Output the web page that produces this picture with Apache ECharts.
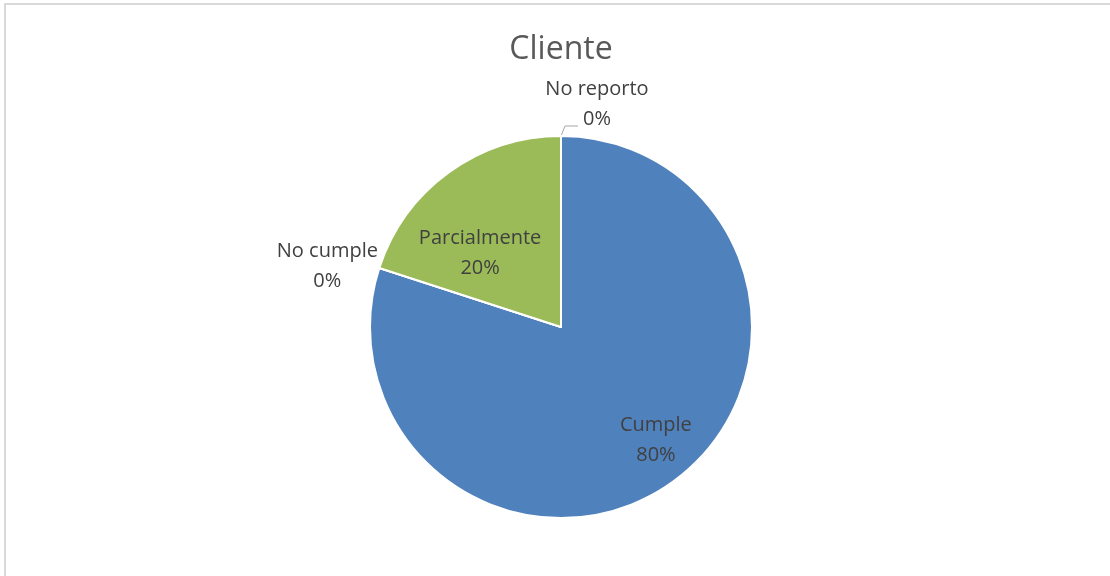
<!DOCTYPE html>
<html><head><meta charset="utf-8">
<script src="https://cdn.jsdelivr.net/npm/echarts@6/dist/echarts.min.js"></script>
<style>html,body{margin:0;padding:0;background:#fff}#c{width:1110px;height:576px}</style>
</head><body><div id="c"></div>
<script>
const title = 'Cliente';
const categories = ['Cumple', 'No cumple', 'Parcialmente', 'No reporto'];
const values = [80, 0, 20, 0];
const colors = ['#4F81BD', '#C0504D', '#9BBB59', '#8064A2'];

const chart = echarts.init(document.getElementById('c'));
const FONT = 'Open Sans';
const data = categories.map((n, i) => {
  const d = { name: n, value: values[i], itemStyle: { color: colors[i] } };
  if (values[i] === 0) {
    d.label = { position: 'outside' };
    d.labelLine = { show: n === 'No reporto' };
  }
  return d;
});
// label nudges (Excel-style best-fit placement)
const nudges = {
  'Cumple': [37, 34],
  'Parcialmente': [-23, 6]
};
chart.setOption({
  animation: false,
  title: { text: title, left: 556, textAlign: 'center', top: 29,
    textStyle: { fontFamily: FONT, fontSize: 32, fontWeight: 'normal', color: '#595959' } },
  graphic: [{ type: 'rect', shape: { x: 5, y: 4, width: 1200, height: 700 },
    style: { fill: 'none', stroke: '#d9d9d9', lineWidth: 2 }, silent: true }],
  series: [{
    type: 'pie',
    center: [561, 327],
    radius: 191,
    startAngle: 90,
    clockwise: true,
    data: data,
    itemStyle: { borderColor: '#fff', borderWidth: 2 },
    label: { show: true, position: 'inside', formatter: '{b}\n{d}%',
      fontFamily: FONT, fontSize: 20, color: '#404040', lineHeight: 30 },
    labelLine: { length: 10, length2: 14, lineStyle: { color: '#a6a6a6', width: 1 } },
    labelLayout: function (p) {
      const name = categories[p.dataIndex];
      if (nudges[name]) return { dx: nudges[name][0], dy: nudges[name][1] };
      const p0 = p.labelLinePoints ? p.labelLinePoints[0] : null;
      if (name === 'No reporto' && p0) {
        return { x: p0[0] + 36, y: p0[1] - 32, align: 'center', verticalAlign: 'middle',
          labelLinePoints: [p0, [p0[0] + 4, p0[1] - 10], [p0[0] + 17, p0[1] - 10]] };
      }
      if (name === 'No cumple' && p0) {
        return { x: p0[0] - 52, y: p0[1] - 2, align: 'center', verticalAlign: 'middle' };
      }
      return {};
    },
    emphasis: { disabled: true }
  }]
});
</script></body></html>
